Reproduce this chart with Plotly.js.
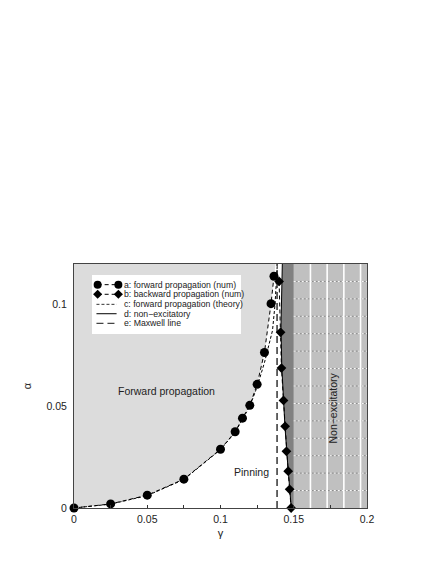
<!DOCTYPE html>
<html>
<head>
<meta charset="utf-8">
<script src="https://cdn.plot.ly/plotly-3.0.1.min.js"></script>
<style>html,body{margin:0;padding:0;background:#fff;}#chart{width:443px;height:573px;}</style>
</head>
<body>
<div id="chart"></div>
<script>
// ---- data ----
const FWD_GAMMA = [0, 0.025, 0.05, 0.075, 0.1, 0.11, 0.115, 0.12, 0.125, 0.13, 0.1345, 0.1365];
const FWD_ALPHA = [0, 0.002, 0.0063, 0.0142, 0.0289, 0.0375, 0.0442, 0.0505, 0.0608, 0.0765, 0.1005, 0.114];
const FWD_TOP_GAMMA = 0.1375;

const BWD_GAMMA = [0.1400, 0.1410, 0.1416, 0.1430, 0.1441, 0.1450, 0.1462, 0.1472, 0.1482];
const BWD_ALPHA = [0.1114, 0.0864, 0.0688, 0.0529, 0.0402, 0.0279, 0.0181, 0.0092, 0];

const THEORY_GAMMA = [0, 0.025, 0.05, 0.075, 0.1, 0.11, 0.12, 0.125, 0.13, 0.1355, 0.1372, 0.1382, 0.1388];
const THEORY_ALPHA = [0, 0.0019, 0.0061, 0.014, 0.0287, 0.0372, 0.0500, 0.0596, 0.0715, 0.0873, 0.1, 0.11, 0.12];

const NONEXC_GAMMA = [0.1483, 0.1470, 0.1455, 0.1440, 0.1428, 0.1418, 0.1413, 0.1416, 0.1422];
const NONEXC_ALPHA = [0, 0.01, 0.025, 0.04, 0.055, 0.07, 0.09, 0.105, 0.12];

const MAXWELL_GAMMA = 0.1386;
const GAMMA_CRIT = 0.15;
const X_RANGE = [0, 0.2];
const Y_RANGE = [0, 0.12];
const X_TICKS = [0, 0.05, 0.1, 0.15, 0.2];
const X_TICK_TEXT = ['0', '0.05', '0.1', '0.15', '0.2'];
const Y_TICKS = [0, 0.05, 0.1];
const Y_TICK_TEXT = ['0', '0.05', '0.1'];
const HATCH_V = [0.1614, 0.1728, 0.1842, 0.1956];
const HATCH_H_COUNT = 14;

const LEGEND_LABELS = ['a: forward propagation (num)', 'b: backward propagation (num)',
  'c: forward propagation (theory)', 'd: non\u2212excitatory', 'e: Maxwell line'];

const FONT = 'Liberation Sans, Arial, Helvetica, sans-serif';
const yTop = Y_RANGE[1], xMax = X_RANGE[1];

const traces = [];
// non-excitatory region
traces.push({x: [GAMMA_CRIT, xMax, xMax, GAMMA_CRIT, GAMMA_CRIT], y: [0, 0, yTop, yTop, 0],
  mode: 'lines', fill: 'toself', fillcolor: '#c0c0c0', line: {width: 0}, hoverinfo: 'skip'});
// dark band between non-excitatory line and gamma crit
traces.push({x: NONEXC_GAMMA.concat([GAMMA_CRIT, GAMMA_CRIT, NONEXC_GAMMA[0]]),
  y: NONEXC_ALPHA.concat([yTop, 0, 0]),
  mode: 'lines', fill: 'toself', fillcolor: '#818181', line: {width: 0}, hoverinfo: 'skip'});
// forward propagation region
traces.push({x: FWD_GAMMA.concat([FWD_TOP_GAMMA, 0, 0]), y: FWD_ALPHA.concat([yTop, yTop, 0]),
  mode: 'lines', fill: 'toself', fillcolor: '#dcdcdc', line: {width: 0}, hoverinfo: 'skip'});
// d: non-excitatory line
traces.push({x: NONEXC_GAMMA, y: NONEXC_ALPHA, mode: 'lines', line: {color: '#000', width: 1}});
// e: Maxwell line
traces.push({x: [MAXWELL_GAMMA, MAXWELL_GAMMA], y: [0, yTop], mode: 'lines',
  line: {color: '#000', width: 1.2, dash: '7px,4px'}});
// c: theory
traces.push({x: THEORY_GAMMA, y: THEORY_ALPHA, mode: 'lines',
  line: {color: '#000', width: 1, dash: '3px,2px'}});
// a: forward numeric
traces.push({x: FWD_GAMMA, y: FWD_ALPHA, mode: 'lines+markers', cliponaxis: false,
  line: {color: '#000', width: 1, dash: '4px,3px'}, marker: {symbol: 'circle', size: 9, color: '#000'}});
// b: backward numeric
traces.push({x: BWD_GAMMA, y: BWD_ALPHA, mode: 'lines+markers', cliponaxis: false,
  line: {color: '#000', width: 1, dash: '4px,3px'}, marker: {symbol: 'diamond', size: 7.5, color: '#000'}});

// ---- legend inset (hidden axes x2/y2, unit range) ----
const LEG_ROWS = [0.836, 0.673, 0.503, 0.344, 0.181];
traces.push({x: [0, 1, 1, 0, 0], y: [0, 0, 1, 1, 0], xaxis: 'x2', yaxis: 'y2', mode: 'lines',
  fill: 'toself', fillcolor: '#ffffff', line: {width: 0}, hoverinfo: 'skip'});
traces.push({x: [0.038, 0.177], y: [LEG_ROWS[0], LEG_ROWS[0]], xaxis: 'x2', yaxis: 'y2', mode: 'lines+markers',
  line: {color: '#000', width: 1, dash: '4px,3px'}, marker: {symbol: 'circle', size: 8, color: '#000'}});
traces.push({x: [0.038, 0.177], y: [LEG_ROWS[1], LEG_ROWS[1]], xaxis: 'x2', yaxis: 'y2', mode: 'lines+markers',
  line: {color: '#000', width: 1, dash: '4px,3px'}, marker: {symbol: 'diamond', size: 7, color: '#000'}});
traces.push({x: [0.03, 0.165], y: [LEG_ROWS[2], LEG_ROWS[2]], xaxis: 'x2', yaxis: 'y2', mode: 'lines',
  line: {color: '#333', width: 1, dash: '3px,2px'}});
traces.push({x: [0.03, 0.165], y: [LEG_ROWS[3], LEG_ROWS[3]], xaxis: 'x2', yaxis: 'y2', mode: 'lines',
  line: {color: '#000', width: 1}});
traces.push({x: [0.03, 0.165], y: [LEG_ROWS[4], LEG_ROWS[4]], xaxis: 'x2', yaxis: 'y2', mode: 'lines',
  line: {color: '#444', width: 1.2, dash: '7px,4px'}});

const annotations = LEGEND_LABELS.map((t, i) => ({
  text: t, x: 0.203, y: LEG_ROWS[i], xref: 'x2', yref: 'y2', xanchor: 'left', yanchor: 'middle',
  showarrow: false, font: {family: FONT, size: 8.7, color: '#222'}
}));
annotations.push({text: 'Forward propagation', x: 0.0634, y: 0.0574, xref: 'x', yref: 'y',
  showarrow: false, font: {family: FONT, size: 10.5, color: '#222'}});
annotations.push({text: 'Pinning', x: 0.1214, y: 0.0176, xref: 'x', yref: 'y',
  showarrow: false, font: {family: FONT, size: 10.5, color: '#222'}});
annotations.push({text: 'Non\u2212excitatory', x: 0.1769, y: 0.049, xref: 'x', yref: 'y', textangle: -90,
  showarrow: false, font: {family: FONT, size: 10.5, color: '#222'}});

// ---- hatch pattern of the non-excitatory region ----
const shapes = [];
for (let k = 1; k < HATCH_H_COUNT; k++) {
  const yy = yTop * k / HATCH_H_COUNT;
  shapes.push({type: 'line', xref: 'x', yref: 'y', x0: GAMMA_CRIT, x1: xMax, y0: yy, y1: yy,
    line: {color: '#8a8a8a', width: 1}});
  shapes.push({type: 'line', xref: 'x', yref: 'y', x0: GAMMA_CRIT, x1: xMax, y0: yy, y1: yy,
    line: {color: '#ffffff', width: 1, dash: '2px,2px'}});
}
HATCH_V.forEach(g => shapes.push({type: 'line', xref: 'x', yref: 'y', x0: g, x1: g, y0: 0, y1: yTop,
  line: {color: '#ffffff', width: 1.6}}));

const layout = {
  width: 443, height: 573,
  margin: {l: 74, r: 76, t: 264, b: 65},
  paper_bgcolor: '#ffffff', plot_bgcolor: '#ffffff',
  showlegend: false, hovermode: false,
  font: {family: FONT, size: 10.5, color: '#222'},
  xaxis: {range: X_RANGE, tickvals: X_TICKS, ticktext: X_TICK_TEXT, ticks: 'inside', ticklen: 3,
    tickcolor: '#333', minor: {dtick: 0.025, ticks: 'inside', ticklen: 3, tickcolor: '#333'},
    showgrid: false, zeroline: false, showline: true, linecolor: '#444', linewidth: 1, mirror: true,
    ticklabelstandoff: 1, tickfont: {family: FONT, size: 10.5, color: '#222'},
    title: {text: '\u03b3', font: {family: FONT, size: 11, color: '#222'}, standoff: 5}},
  yaxis: {range: Y_RANGE, tickvals: Y_TICKS, ticktext: Y_TICK_TEXT, ticks: '', showgrid: false,
    zeroline: false, showline: true, linecolor: '#444', linewidth: 1, mirror: true,
    ticklabelstandoff: 4, tickfont: {family: FONT, size: 10.5, color: '#222'},
    title: {text: '\u03b1', font: {family: FONT, size: 11, color: '#222'}, standoff: 12}},
  xaxis2: {domain: [0.0614, 0.570], range: [0, 1], visible: false, anchor: 'y2', fixedrange: true},
  yaxis2: {domain: [0.713, 0.955], range: [0, 1], visible: false, anchor: 'x2', fixedrange: true},
  annotations: annotations,
  shapes: shapes
};

Plotly.newPlot('chart', traces, layout, {staticPlot: true, displayModeBar: false});
</script>
</body>
</html>
